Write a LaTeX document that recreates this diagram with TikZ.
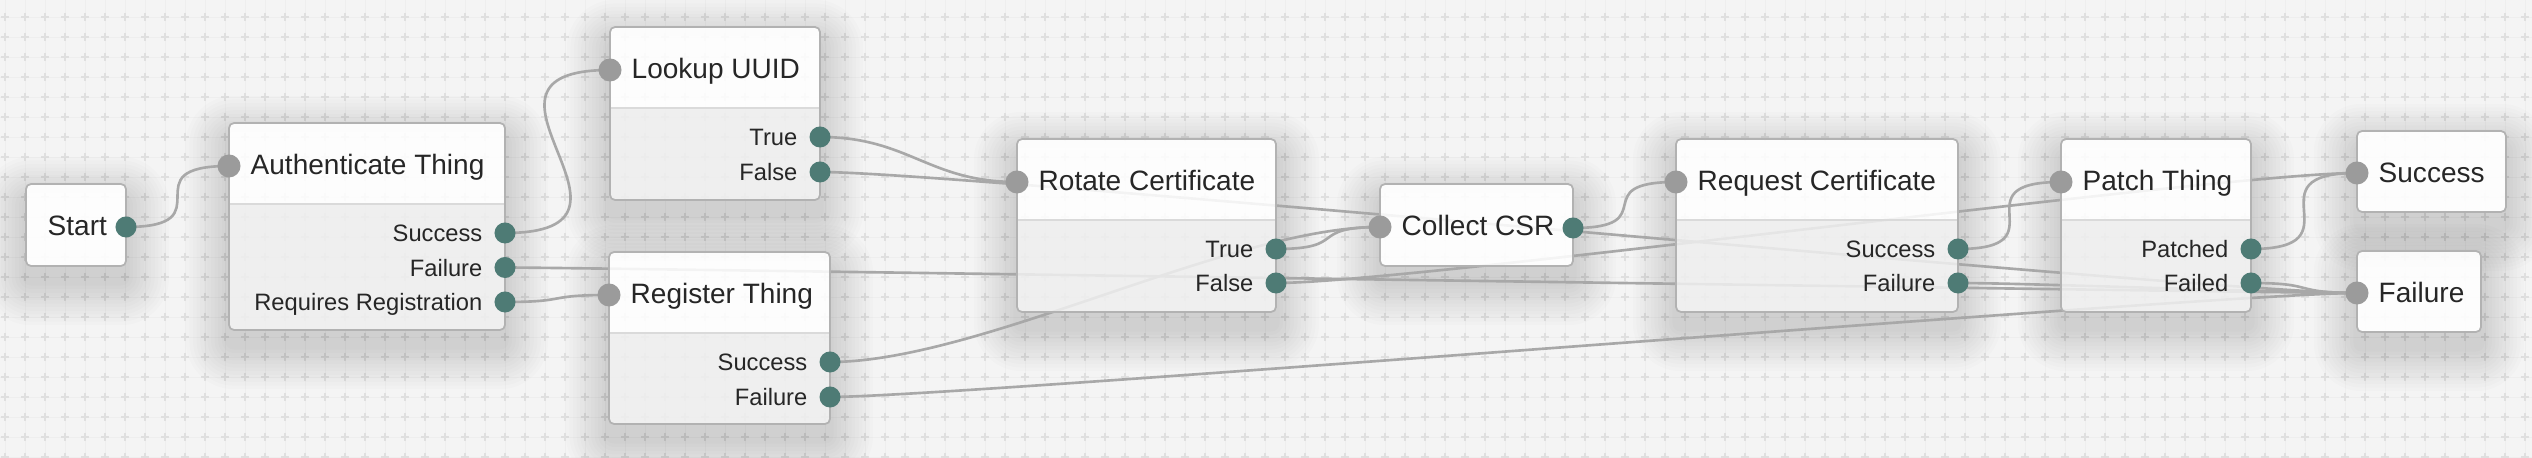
\documentclass[tikz,border=0pt]{standalone}
\usepackage{fontspec}
\setmainfont{Liberation Sans}
\definecolor{bgcol}{HTML}{F4F4F4}
\definecolor{gridcol}{HTML}{EEEEEE}
\definecolor{crosscol}{HTML}{DFDFDF}
\definecolor{linecol}{HTML}{A8A8A8}
\definecolor{bordercol}{HTML}{B2B2B2}
\definecolor{bodycol}{HTML}{EFEFEF}
\definecolor{divcol}{HTML}{DADADA}
\definecolor{outcol}{HTML}{4E7B75}
\definecolor{incol}{HTML}{9B9B9B}
\definecolor{textcol}{HTML}{262626}
\pgfdeclarelayer{bg}
\pgfdeclarelayer{shadow}
\pgfdeclarelayer{wires}
\pgfsetlayers{bg,shadow,wires,main}

\newcommand{\flowshadow}[4]{%
\begin{pgfonlayer}{shadow}
\foreach \i in {1,...,12}{%
  \pgfmathsetmacro\e{\i*3.6}%
  \pgfmathsetmacro\rr{(5+\e)*0.01}%
  \fill[black, fill opacity=0.012, even odd rule] {[rounded corners=\rr cm] (#1-\e,#2-\e+16) rectangle (#1+#3+\e,#2+#4+\e+16)} (#1+1,#2+1) rectangle (#1+#3-1,#2+#4-1);
}%
\end{pgfonlayer}}

% full box: name, x, y, w, h, title
\newcommand{\fullbox}[6]{%
  \flowshadow{#2}{#3}{#4}{#5}
  \begin{scope}
    \clip (#2-2,#3-2) rectangle (#2+#4+2,#3+81);
    \fill[white, fill opacity=0.87, rounded corners=0.05cm] (#2,#3) rectangle (#2+#4,#3+#5);
  \end{scope}
  \begin{scope}
    \clip (#2-2,#3+81) rectangle (#2+#4+2,#3+#5+2);
    \fill[bodycol, fill opacity=0.87, rounded corners=0.05cm] (#2,#3) rectangle (#2+#4,#3+#5);
  \end{scope}
  \draw[divcol, line width=0.5pt] (#2,#3+81) -- (#2+#4,#3+81);
  \node[frame, minimum width={#4*0.01cm}, minimum height={#5*0.01cm}] (#1) at (#2,#3) {};
  \node[title] (#1-t) at (#2+21,#3+52) {#6};
  \node[indot] (#1-in) at (#2,#3+43) {};
}
% simple box: name, x, y, w, h, title
\newcommand{\simplebox}[6]{%
  \flowshadow{#2}{#3}{#4}{#5}
  \fill[white, fill opacity=0.88, rounded corners=0.05cm] (#2,#3) rectangle (#2+#4,#3+#5);
  \node[frame, minimum width={#4*0.01cm}, minimum height={#5*0.01cm}] (#1) at (#2,#3) {};
  \node[title] (#1-t) at (#2+21,#3+52) {#6};
}
% port: box, port, x, y, label
\newcommand{\port}[5]{%
  \node[outdot] (#1-#2) at (#3,#4) {};
  \node[plabel] (#1-#2-l) at (#3-22,#4+9) {#5};
}
\newcommand{\wire}[3]{%
  \begin{pgfonlayer}{wires}
  \draw[wire] (#1.center) .. controls +(#3,0) and +(-#3,0) .. (#2.center);
  \end{pgfonlayer}}

\begin{document}
\begin{tikzpicture}[x=0.01cm, y=-0.01cm,
  frame/.style={draw=bordercol, line width=0.5pt, rounded corners=0.05cm, inner sep=0pt, outer sep=0pt, anchor=north west},
  title/.style={anchor=base west, inner sep=0pt, text=textcol, font=\fontsize{7.97}{9}\selectfont},
  plabel/.style={anchor=base east, inner sep=0pt, text=textcol, font=\fontsize{6.74}{8}\selectfont},
  indot/.style={circle, fill=incol, minimum size=0.23cm, inner sep=0pt},
  outdot/.style={circle, fill=outcol, minimum size=0.21cm, inner sep=0pt},
  wire/.style={draw=linecol, line width=0.75pt}]
\useasboundingbox (0,0) rectangle (2532,458);
\clip (0,0) rectangle (2532,458);
\begin{pgfonlayer}{bg}
  \fill[bgcol] (0,0) rectangle (2532,458);
  \foreach \x in {5,25,...,2525} \draw[gridcol, line width=0.25pt] (\x,0) -- (\x,458);
  \foreach \y in {17,37,...,457} \draw[gridcol, line width=0.25pt] (0,\y) -- (2532,\y);
  \foreach \x in {5,25,...,2525}
    \draw[crosscol, line width=0.6pt] \foreach \y in {17,37,...,457} {(\x-4,\y) -- (\x+4,\y) (\x,\y-4) -- (\x,\y+4)};
\end{pgfonlayer}

% boxes
\simplebox{start}{26}{184}{100}{82}{Start}
\node[outdot] (start-out) at (126,227) {};

\fullbox{auth}{229}{123}{276}{207}{Authenticate Thing}
\port{auth}{success}{505}{233}{Success}
\port{auth}{failure}{505}{267.5}{Failure}
\port{auth}{reqreg}{505}{302}{Requires Registration}

\fullbox{lookup}{610}{27}{210}{173}{Lookup UUID}
\port{lookup}{true}{820}{137}{True}
\port{lookup}{false}{820}{172}{False}

\fullbox{register}{609}{252}{221}{172}{Register Thing}
\port{register}{success}{830}{362}{Success}
\port{register}{failure}{830}{397}{Failure}

\fullbox{rotate}{1017}{139}{259}{173}{Rotate Certificate}
\port{rotate}{true}{1276}{249}{True}
\port{rotate}{false}{1276}{283}{False}

\simplebox{collect}{1380}{184}{193}{82}{Collect CSR}
\node[indot] (collect-in) at (1380,227) {};
\node[outdot] (collect-out) at (1573,228) {};

\fullbox{request}{1676}{139}{282}{173}{Request Certificate}
\port{request}{success}{1958}{249}{Success}
\port{request}{failure}{1958}{283}{Failure}

\fullbox{patch}{2061}{139}{190}{173}{Patch Thing}
\port{patch}{patched}{2251}{249}{Patched}
\port{patch}{failed}{2251}{283}{Failed}

\simplebox{success}{2357}{131}{149}{81}{Success}
\node[indot] (success-in) at (2357,173) {};

\simplebox{failure}{2357}{251}{124}{81}{Failure}
\node[indot] (failure-in) at (2357,293) {};

% connectors
\wire{start-out}{auth-in}{102}
\wire{auth-success}{lookup-in}{170}
\wire{auth-failure}{failure-in}{77}
\wire{auth-reqreg}{register-in}{65}
\wire{lookup-true}{rotate-in}{89}
\wire{lookup-false}{failure-in}{141}
\wire{register-success}{collect-in}{150}
\wire{register-failure}{failure-in}{130}
\wire{rotate-true}{collect-in}{74}
\wire{rotate-false}{success-in}{134}
\wire{collect-out}{request-in}{92}
\wire{request-success}{patch-in}{106}
\wire{request-failure}{failure-in}{67}
\wire{patch-patched}{success-in}{111}
\wire{patch-failed}{failure-in}{67}
\end{tikzpicture}
\end{document}
